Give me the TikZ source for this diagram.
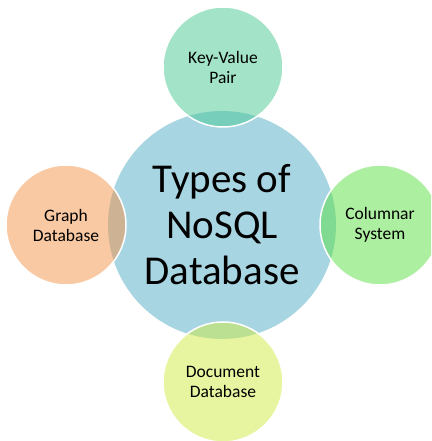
\documentclass[tikz,border=0pt]{standalone}
\usepackage{fontspec}
\setmainfont{Carlito}
\definecolor{centreblue}{RGB}{168,213,226}
\definecolor{kvgreen}{RGB}{71,201,147}
\definecolor{colgreen}{RGB}{91,223,65}
\definecolor{docyellow}{RGB}{209,235,65}
\definecolor{graphorange}{RGB}{243,147,71}
\tikzset{typecircle/.style={circle, minimum size=120pt, inner sep=0pt, draw=white, line width=1.5pt,
    fill opacity=0.5, text opacity=1, align=center, font=\fontsize{17.5}{20}\selectfont}}

\begin{document}
\begin{tikzpicture}[x=1pt, y=1pt]
            \useasboundingbox (0,0) rectangle (431,441);
            \clip (0,0) rectangle (431,441);
            \coordinate (O)    at (222,216);
            \coordinate (Top)  at (223,374);
            \coordinate (Bot)  at (223,59);
            \coordinate (Left) at (66,216);
            \coordinate (Right) at (380,216);

            \node[circle, minimum size=228pt, inner sep=0pt, fill=centreblue, align=center,
                font=\fontsize{41}{46}\selectfont] (types) at (O) {Types of\\NoSQL\\Database};% big circle

            \node[typecircle, fill=kvgreen] (keyvalue) at (Top) {Key-Value\\Pair};
            \node[typecircle, fill=graphorange] (graph) at (Left) {Graph\\Database};
            \node[typecircle, fill=colgreen] (columnar) at (Right) {Columnar\\System};
            \node[typecircle, fill=docyellow] (document) at (Bot) {Document\\Database};
        \end{tikzpicture}
\end{document}
